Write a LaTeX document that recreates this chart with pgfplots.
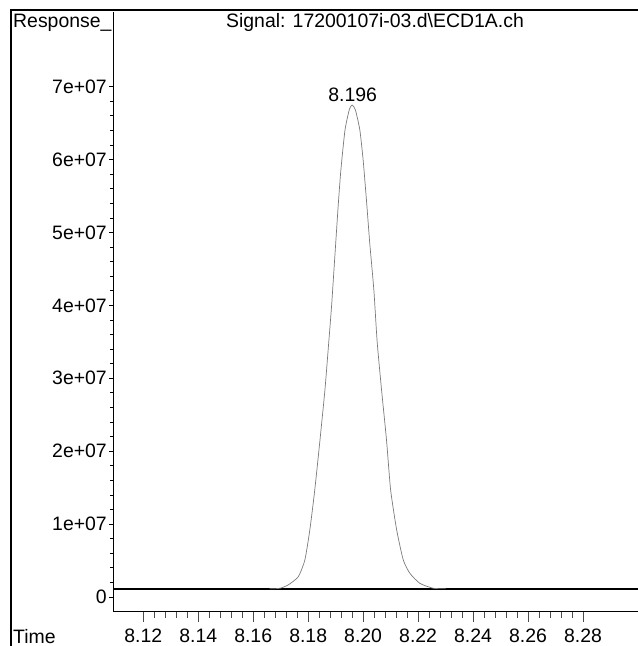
\documentclass[border=0pt]{standalone}
\usepackage{pgfplots}
\pgfplotsset{compat=1.18}
\usepackage{fontspec}
\setmainfont{Liberation Sans}
\definecolor{sig}{HTML}{7A7A7A}
\begin{document}
\fontsize{19.5}{21}\selectfont
\begin{tikzpicture}[x=1bp,y=1bp]
\useasboundingbox (0,0) rectangle (638,646);
\draw[line width=1.2bp] (11,0) -- (11,636) -- (638,636);
\node[anchor=base west, inner sep=0pt] at (13,618.7) {Response\_};
\node[anchor=base, inner sep=0pt] at (375,618.7) {Signal: 17200107i-03.d\textbackslash ECD1A.ch};
\node[anchor=base west, inner sep=0pt] at (13,2.7) {Time};
\begin{axis}[
  at={(113bp,34bp)}, anchor=south west,
  scale only axis, width=525bp, height=600bp,
  xmin=8.109, xmax=8.30, ymin=-2.06e6, ymax=8.025e7,
  axis x line*=bottom, axis y line*=left,
  axis line style={line width=1bp, -},
  clip=false,
  tick align=outside,
  ytick={0,1e7,2e7,3e7,4e7,5e7,6e7,7e7},
  yticklabels={0,1e+07,2e+07,3e+07,4e+07,5e+07,6e+07,7e+07},
  minor y tick num=4,
  major tick length=4bp, minor tick length=3bp,
  yticklabel style={anchor=east, inner sep=0pt, xshift=-2bp},
  xtick=\empty,
  tick style={black, line width=0.8bp},
  scaled y ticks=false,
]
\addplot[black, line width=1.4bp] coordinates {(8.109,1.1e6) (8.30,1.1e6)};
\addplot[sig, line width=0.7bp, smooth, tension=0.35] coordinates {
(8.1660,1.12e6)
(8.1697,1.19e6)
(8.1727,1.65e6)
(8.1764,2.78e6)
(8.1788,5.08e6)
(8.1806,9.19e6)
(8.1824,14.68e6)
(8.1843,21.54e6)
(8.1861,28.40e6)
(8.1875,35.0e6)
(8.1885,39.82e6)
(8.1897,46.68e6)
(8.1909,53.54e6)
(8.1919,58.57e6)
(8.1934,64.06e6)
(8.1950,66.9e6)
(8.1960,67.49e6)
(8.1972,66.8e6)
(8.1988,64.06e6)
(8.2000,59.95e6)
(8.2012,54.46e6)
(8.2024,48.56e6)
(8.2039,42.11e6)
(8.2051,35.0e6)
(8.2067,28.40e6)
(8.2085,21.54e6)
(8.2100,14.68e6)
(8.2122,9.19e6)
(8.2146,5.08e6)
(8.2170,3.25e6)
(8.2206,1.88e6)
(8.2255,1.19e6)
(8.2300,1.15e6)
};
\node[anchor=base, inner sep=0pt] at (axis cs:8.1962,67.94e6) {8.196};
\end{axis}
\begin{axis}[
  at={(113bp,34bp)}, anchor=south west,
  scale only axis, width=525bp, height=600bp,
  xmin=8.109, xmax=8.30, ymin=-2.06e6, ymax=8.025e7,
  axis x line*=bottom, axis y line=none,
  axis line style={line width=1bp, -},
  tick align=outside,
  xtick={8.12,8.14,8.16,8.18,8.20,8.22,8.24,8.26,8.28},
  xticklabels={8.12,8.14,8.16,8.18,8.20,8.22,8.24,8.26,8.28},
  minor x tick num=4,
  major tick length=10bp, minor tick length=6bp,
  xticklabel style={anchor=base, inner sep=0pt, yshift=-21bp},
  tick style={black!70, line width=0.7bp},
]
\addplot[draw=none] coordinates {(8.2,0)};
\end{axis}
\end{tikzpicture}
\end{document}
